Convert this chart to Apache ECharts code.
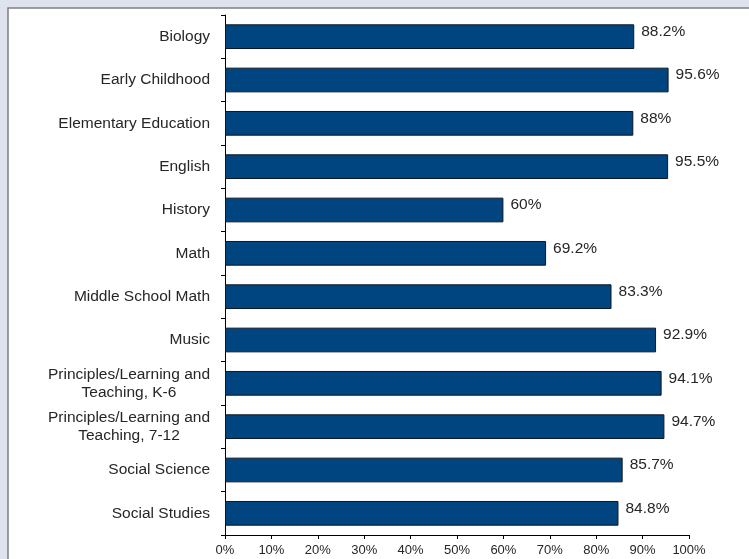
<!DOCTYPE html>
<html>
<head>
<meta charset="utf-8">
<script src="https://cdn.jsdelivr.net/npm/echarts@6/dist/echarts.min.js"></script>
<style>
  html, body { margin: 0; padding: 0; background: #dfe3ee; }
  #chart { width: 749px; height: 559px; }
</style>
</head>
<body>
<div id="chart"></div>
<script>
// Pass rates by licensure test area
const categories = [
  'Biology',
  'Early Childhood',
  'Elementary Education',
  'English',
  'History',
  'Math',
  'Middle School Math',
  'Music',
  'Principles/Learning and\nTeaching, K-6',
  'Principles/Learning and\nTeaching, 7-12',
  'Social Science',
  'Social Studies'
];
const passRates = [88.2, 95.6, 88, 95.5, 60, 69.2, 83.3, 92.9, 94.1, 94.7, 85.7, 84.8];
const xTicks = [0, 10, 20, 30, 40, 50, 60, 70, 80, 90, 100];

const chart = echarts.init(document.getElementById('chart'));
const textColor = '#262626';
const font = 'Liberation Sans, Arial, sans-serif';

chart.setOption({
  backgroundColor: '#dfe3ee',
  animation: false,
  graphic: [{
    type: 'rect',
    z: -10,
    shape: { x: 8, y: 8, width: 760, height: 570 },
    style: { fill: '#ffffff', stroke: '#808080', lineWidth: 1.5 }
  }],
  grid: { left: 225, right: 60, top: 15, bottom: 24 },
  xAxis: {
    type: 'value',
    min: xTicks[0],
    max: xTicks[xTicks.length - 1],
    interval: 10,
    axisLine: { show: true, lineStyle: { color: '#000', width: 1 } },
    axisTick: { show: true, length: 4, lineStyle: { color: '#000' } },
    splitLine: { show: false },
    axisLabel: {
      formatter: v => v + '%',
      color: textColor, fontFamily: font, fontSize: 13, margin: 9
    }
  },
  yAxis: {
    type: 'category',
    inverse: true,
    data: categories,
    axisLine: { show: true, lineStyle: { color: '#000', width: 1 } },
    axisTick: { show: true, length: 4, lineStyle: { color: '#000' } },
    axisLabel: {
      margin: 15,
      align: 'right',
      formatter: v => v.split('\n').map(s => '{c|' + s + '}').join('\n'),
      rich: {
        c: {
          align: 'center',
          color: textColor, fontFamily: font, fontSize: 15.5, lineHeight: 18
        }
      }
    }
  },
  series: [{
    type: 'bar',
    data: passRates,
    barCategoryGap: '43%',
    itemStyle: { color: '#004480', borderColor: '#0c1624', borderWidth: 1 },
    label: {
      show: true,
      position: 'right',
      offset: [0, -5],
      distance: 7,
      formatter: p => p.value + '%',
      color: textColor, fontFamily: font, fontSize: 15.5
    }
  }]
});
</script>
</body>
</html>
